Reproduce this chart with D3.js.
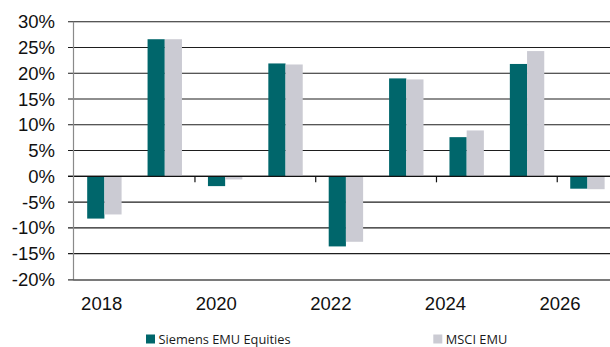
<!DOCTYPE html>
<html>
<head>
<meta charset="utf-8">
<script src="https://cdn.jsdelivr.net/npm/d3@7"></script>
<style>
  html, body { margin: 0; padding: 0; background: #fff; overflow: hidden; }
  svg { display: block; }
</style>
</head>
<body>
<svg id="chart" width="610" height="347"></svg>
<script>
// Calendar-year returns, in percent
const years = ["2018", "2019", "2020", "2021", "2022", "2023", "2024", "2025", "2026"];
const siemensEmu = [-8.2, 26.6, -1.9, 21.9, -13.6, 19.0, 7.6, 21.8, -2.4];
const msciEmu = [-7.4, 26.6, -0.6, 21.7, -12.7, 18.8, 8.9, 24.3, -2.5];
const seriesNames = ["Siemens EMU Equities", "MSCI EMU"];
const yTicks = [-20, -15, -10, -5, 0, 5, 10, 15, 20, 25, 30];
const xTickLabels = ["2018", "2020", "2022", "2024", "2026"];

const colors = { "Siemens EMU Equities": "#00666b", "MSCI EMU": "#cbcbd3" };

const svg = d3.select("#chart");
const plotLeft = 73.5, step = 60.38, bandStart = 74.2;
const plotTop = 21.7, plotBottom = 279.4;

const x = d3.scaleBand().domain(years)
  .range([bandStart, bandStart + step * years.length]).padding(0);
const xs = d3.scaleBand().domain(seriesNames)
  .range([0, x.bandwidth()]).paddingInner(0).paddingOuter(0.755);
const y = d3.scaleLinear().domain([-20, 30]).range([plotBottom, plotTop]);
const xLabel = d3.scalePoint().domain(xTickLabels).range([101.7, 560]);

// horizontal gridlines
svg.append("g").selectAll("line").data(yTicks.filter(t => t !== -20)).join("line")
  .attr("x1", 68).attr("x2", 610)
  .attr("y1", d => y(d)).attr("y2", d => y(d))
  .attr("stroke", "#1e1e1e").attr("stroke-width", 1.1);

// bars
const rows = years.map((yr, i) => ({ year: yr, values: [siemensEmu[i], msciEmu[i]] }));
svg.append("g").selectAll("g").data(rows).join("g")
  .attr("transform", d => `translate(${x(d.year)},0)`)
  .selectAll("rect")
  .data(d => d.values.map((v, j) => ({ name: seriesNames[j], value: v })))
  .join("rect")
  .attr("x", d => xs(d.name))
  .attr("width", xs.bandwidth())
  .attr("y", d => y(Math.max(0, d.value)))
  .attr("height", d => Math.abs(y(d.value) - y(0)))
  .attr("fill", d => colors[d.name]);

// zero line with category ticks every second year
svg.append("line").attr("x1", 68).attr("x2", 610)
  .attr("y1", y(0)).attr("y2", y(0))
  .attr("stroke", "#111").attr("stroke-width", 1.2);
const boundaryYears = ["2020", "2022", "2024", "2026"];
svg.append("g").selectAll("line").data(boundaryYears).join("line")
  .attr("x1", d => x(d)).attr("x2", d => x(d))
  .attr("y1", y(0)).attr("y2", y(0) + 6)
  .attr("stroke", "#111").attr("stroke-width", 1.2);

// left axis and bottom frame
svg.append("line").attr("x1", plotLeft).attr("x2", plotLeft)
  .attr("y1", plotTop).attr("y2", plotBottom + 1)
  .attr("stroke", "#8a8a8a").attr("stroke-width", 1.2);
svg.append("line").attr("x1", plotLeft).attr("x2", 610)
  .attr("y1", plotBottom + 0.5).attr("y2", plotBottom + 0.5)
  .attr("stroke", "#7a7a7a").attr("stroke-width", 2);
svg.append("line").attr("x1", 68).attr("x2", plotLeft)
  .attr("y1", plotBottom + 0.5).attr("y2", plotBottom + 0.5)
  .attr("stroke", "#1e1e1e").attr("stroke-width", 1.1);

// y tick labels
svg.append("g").selectAll("text").data(yTicks).join("text")
  .attr("x", 55).attr("y", d => y(d) + 6.6)
  .attr("text-anchor", "end")
  .attr("font-family", "Liberation Sans, Arial, sans-serif")
  .attr("font-size", 18.5).attr("fill", "#111")
  .text(d => d + "%");

// x tick labels
svg.append("g").selectAll("text").data(xTickLabels).join("text")
  .attr("x", d => xLabel(d)).attr("y", 310)
  .attr("text-anchor", "middle")
  .attr("font-family", "Liberation Sans, Arial, sans-serif")
  .attr("font-size", 18.5).attr("fill", "#111")
  .text(d => d);

// legend
const legendX = [146, 433.3];
const legend = svg.append("g").selectAll("g").data(seriesNames).join("g")
  .attr("transform", (d, i) => `translate(${legendX[i]},334.5)`);
legend.append("rect").attr("width", 9).attr("height", 9)
  .attr("fill", d => colors[d]);
legend.append("text").attr("x", 12.5).attr("y", 9)
  .attr("font-family", "Open Sans, sans-serif")
  .attr("font-size", 12.8).attr("fill", "#1a1a1a")
  .text(d => d);
</script>
</body>
</html>
